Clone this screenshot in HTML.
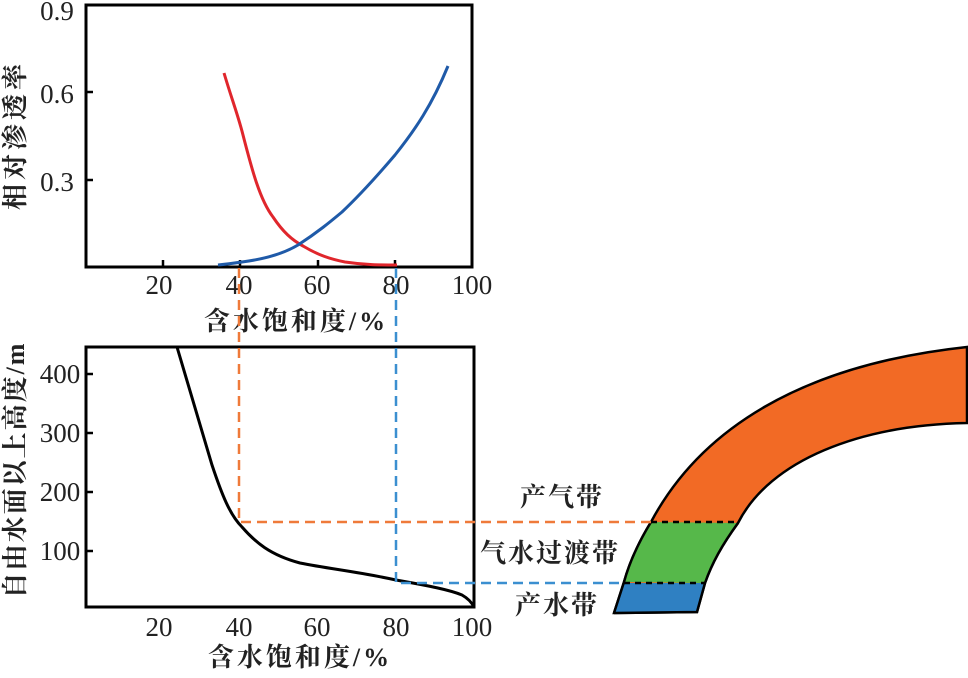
<!DOCTYPE html>
<html><head><meta charset="utf-8"><style>body{margin:0;background:#fff}</style></head><body>
<svg width="968" height="673" viewBox="0 0 968 673" xmlns="http://www.w3.org/2000/svg" font-family="'Liberation Serif','Noto Serif CJK SC',serif">
<!-- top chart -->
<rect x="86" y="5" width="386" height="262" fill="none" stroke="#000" stroke-width="3"/>
<g stroke="#000" stroke-width="2.5">
<line x1="163" y1="267" x2="163" y2="260"/><line x1="240" y1="267" x2="240" y2="260"/><line x1="318" y1="267" x2="318" y2="260"/><line x1="395" y1="267" x2="395" y2="260"/>
<line x1="86" y1="92" x2="93" y2="92"/><line x1="86" y1="180" x2="93" y2="180"/>
</g>
<g font-size="27" fill="#222" text-anchor="middle">
<text x="159" y="294">20</text><text x="239" y="294">40</text><text x="317" y="294">60</text><text x="396" y="294">80</text><text x="472" y="294">100</text>
<text x="57" y="20">0.9</text><text x="57" y="103">0.6</text><text x="57" y="191">0.3</text>
</g>
<text x="296" y="330" font-size="26" font-weight="bold" fill="#222" text-anchor="middle" letter-spacing="3">含水饱和度/%</text>
<text transform="translate(24,135) rotate(-90)" font-size="26" font-weight="bold" fill="#222" text-anchor="middle" letter-spacing="4">相对渗透率</text>
<path d="M224,73 C232,100 238,115 243,135 C252,170 260,200 273,217 C283,232 292,240 303,246 C318,255 330,259 345,262 C365,265 380,265 397,265" fill="none" stroke="#e0262c" stroke-width="3"/>
<path d="M218,265 C228,264 235,263 242,262 C265,259 283,254 298,245 C318,232 330,222 342,212 C360,195 378,175 395,155 C415,130 432,105 448,66" fill="none" stroke="#1f5aa8" stroke-width="3"/>
<!-- bottom chart -->
<rect x="86" y="347" width="388" height="260" fill="none" stroke="#000" stroke-width="3"/>
<g stroke="#000" stroke-width="2.5">
<line x1="86" y1="374" x2="93" y2="374"/><line x1="86" y1="433" x2="93" y2="433"/><line x1="86" y1="492" x2="93" y2="492"/><line x1="86" y1="551" x2="93" y2="551"/>
</g>
<g font-size="27" fill="#222" text-anchor="middle">
<text x="159" y="636">20</text><text x="239" y="636">40</text><text x="317" y="636">60</text><text x="396" y="636">80</text><text x="472" y="636">100</text>
<text x="60" y="383">400</text><text x="60" y="442">300</text><text x="60" y="501">200</text><text x="60" y="560">100</text>
</g>
<text x="300" y="666" font-size="26" font-weight="bold" fill="#222" text-anchor="middle" letter-spacing="3">含水饱和度/%</text>
<text transform="translate(24,470) rotate(-90)" font-size="26" font-weight="bold" fill="#222" text-anchor="middle" letter-spacing="2">自由水面以上高度/m</text>
<path d="M177,347 C188,385 200,425 212,465 C222,495 230,515 242,527 C255,542 270,555 300,563 C330,569 360,572 396,580 C430,586 450,590 462,595 C469,599 472,603 474,607" fill="none" stroke="#000" stroke-width="3"/>
<!-- shape -->
<path d="M614,613 L624,582 C630,560 640,540 651,522 C700,430 800,365 967,347 L967,423 C860,425 770,460 738,523 C722,545 712,563 705,583 L697,612 Z" fill="#f26a25" stroke="#000" stroke-width="2.5"/>
<path d="M624,582 C630,560 640,540 651,522 L738,523 C722,545 712,563 705,583 Z" fill="#56b84a"/>
<path d="M614,613 L624,583 L705,583 L697,612 Z" fill="#2f80c2"/>
<path d="M614,613 L624,582 C630,560 640,540 651,522 M738,523 C722,545 712,563 705,583 L697,612 L614,613" fill="none" stroke="#000" stroke-width="2.5"/>
<!-- dashed guides -->
<g stroke-width="2.5" fill="none" stroke-dasharray="10,6">
<path d="M239,268 L239,522 L651,522" stroke="#ef7a3a"/>
<path d="M396,268 L396,583 L624,583" stroke="#3b8fd0"/>
<path d="M651,522 L738,522 M624,583 L705,583" stroke="#000" stroke-dasharray="6,5"/>
</g>
<g font-size="26" font-weight="bold" fill="#222" text-anchor="middle" letter-spacing="2">
<text x="562" y="506">产气带</text><text x="550" y="562">气水过渡带</text><text x="557" y="614">产水带</text>
</g>
</svg>
</body></html>
